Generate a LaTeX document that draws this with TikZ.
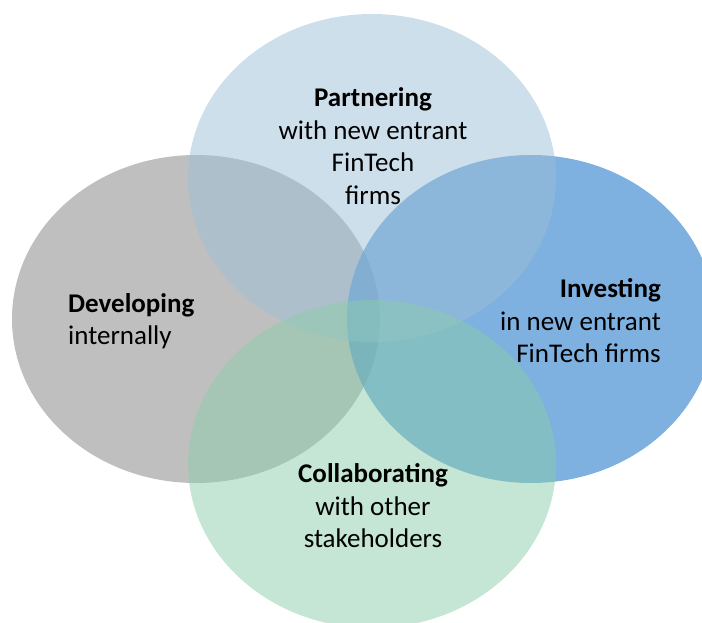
\documentclass[tikz,border=0pt]{standalone}
\usepackage{fontspec}
\setmainfont{Carlito}
\definecolor{cgray}{HTML}{808080}
\definecolor{ctop}{HTML}{9BBFD7}
\definecolor{cright}{HTML}{478ED3}
\definecolor{cbottom}{HTML}{8BCDAB}
\tikzset{
  lbl/.style={inner sep=0pt, font=\fontsize{27}{32.5}\selectfont, text=black},
}
\begin{document}
\begin{tikzpicture}[x=1pt,y=-1pt]
\useasboundingbox (0,0) rectangle (702,623);
\clip (0,0) rectangle (702,623);
\fill[cgray, fill opacity=0.5] (196,319) ellipse [x radius=184, y radius=164];
\fill[cright, fill opacity=0.7] (531,319) ellipse [x radius=184, y radius=164];
\fill[ctop, fill opacity=0.5] (372,178) ellipse [x radius=184, y radius=164];
\fill[cbottom, fill opacity=0.5] (372,464) ellipse [x radius=184, y radius=164];
\node[lbl, align=center] (partner) at (373,146) {\textbf{Partnering}\\with new entrant\\FinTech\\firms};
\node[lbl, align=left, anchor=west] (develop) at (68,321) {\textbf{Developing}\\internally};
\node[lbl, align=right, anchor=east] (invest) at (661,321) {\textbf{Investing}\\in new entrant\\FinTech firms};
\node[lbl, align=center] (collab) at (373,506) {\textbf{Collaborating}\\with other\\stakeholders};
\end{tikzpicture}
\end{document}
